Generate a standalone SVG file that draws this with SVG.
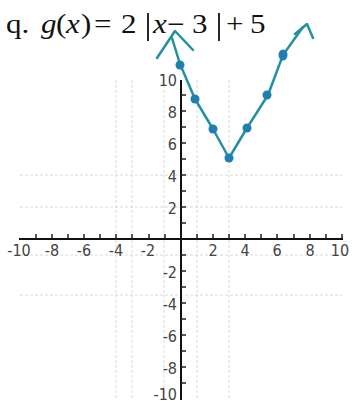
<svg xmlns="http://www.w3.org/2000/svg" width="353" height="405" viewBox="0 0 353 405">
<defs>
<style>
.title{font-family:"Liberation Serif","Times New Roman",serif;font-size:27px;fill:#111}
.it{font-style:italic}
.lbl{font-family:"DejaVu Sans Condensed","Liberation Sans Narrow","Liberation Sans",sans-serif;font-size:16px;fill:#444;font-stretch:condensed}
.grid{stroke:#d8d8d8;stroke-width:1;stroke-dasharray:3 2}
.axis{stroke:#111;stroke-width:2}
.tick{stroke:#222;stroke-width:1.5}
.curve{stroke:#23929f;stroke-width:2.5;fill:none;stroke-linecap:round;stroke-linejoin:round}
.dot{fill:#1f7fb0}
</style>
</defs>
<rect width="353" height="405" fill="#fff"/>
<g id="title">
<g transform="scale(1.15,1)">
<text class="title" x="5.2" y="33">q.</text>
<text class="title it" x="35.7" y="33">g</text>
<text class="title" x="48.7" y="33">(</text>
<text class="title it" x="57.4" y="33">x</text>
<text class="title" x="70.4" y="33">)</text>
<text class="title" x="81.7" y="33">=</text>
<text class="title" x="105.2" y="33">2</text>
<text class="title it" x="133" y="33">x</text>
<text class="title" x="145.2" y="33">−</text>
<text class="title" x="167" y="33">3</text>
<text class="title" x="196.5" y="33">+</text>
<text class="title" x="217.4" y="33">5</text>
</g>
<line x1="148" y1="13" x2="148" y2="41" stroke="#111" stroke-width="1.8"/>
<line x1="219" y1="13" x2="219" y2="41" stroke="#111" stroke-width="1.8"/>
</g>
<g id="grid">
<line class="grid" x1="116" y1="80" x2="116" y2="400"/>
<line class="grid" x1="132" y1="80" x2="132" y2="400"/>
<line class="grid" x1="164" y1="80" x2="164" y2="400"/>
<line class="grid" x1="197" y1="80" x2="197" y2="400"/>
<line class="grid" x1="229" y1="80" x2="229" y2="400"/>
<line class="grid" x1="20" y1="175" x2="342" y2="175"/>
<line class="grid" x1="20" y1="207" x2="342" y2="207"/>
<line class="grid" x1="20" y1="255" x2="342" y2="255"/>
<line class="grid" x1="20" y1="295" x2="342" y2="295"/>
</g>
<g id="axes">
<line class="axis" x1="19" y1="239" x2="343" y2="239"/>
<line class="axis" x1="181" y1="80" x2="181" y2="400"/>
<path class="tick" d="M36 239v-5M52 239v-5M68 239v-5M84 239v-5M100 239v-5M116 239v-5M132 239v-5M149 239v-5M165 239v-5M197 239v-5M213 239v-5M229 239v-5M245 239v-5M261 239v-5M277 239v-5M294 239v-5M310 239v-5M326 239v-5M342 239v-5"/>
<path class="tick" d="M181 95h5M181 111h5M181 127h5M181 143h5M181 159h5M181 175h5M181 191h5M181 207h5M181 223h5M181 255h5M181 271h5M181 287h5M181 303h5M181 319h5M181 335h5M181 351h5M181 367h5M181 383h5"/>
</g>
<g id="labels" class="lbl">
<text x="19" y="256" text-anchor="middle">-10</text>
<text x="52" y="256" text-anchor="middle">-8</text>
<text x="84" y="256" text-anchor="middle">-6</text>
<text x="116" y="256" text-anchor="middle">-4</text>
<text x="148" y="256" text-anchor="middle">-2</text>
<text x="213" y="256" text-anchor="middle">2</text>
<text x="245" y="256" text-anchor="middle">4</text>
<text x="277" y="256" text-anchor="middle">6</text>
<text x="310" y="256" text-anchor="middle">8</text>
<text x="340" y="256" text-anchor="middle">10</text>
<text x="177" y="86" text-anchor="end">10</text>
<text x="177" y="118" text-anchor="end">8</text>
<text x="177" y="150" text-anchor="end">6</text>
<text x="177" y="182" text-anchor="end">4</text>
<text x="177" y="214" text-anchor="end">2</text>
<text x="177" y="278" text-anchor="end">-2</text>
<text x="177" y="310" text-anchor="end">-4</text>
<text x="177" y="342" text-anchor="end">-6</text>
<text x="177" y="374" text-anchor="end">-8</text>
<text x="177" y="400" text-anchor="end">-10</text>
</g>
<g id="graph">
<path class="curve" d="M172 38 L180 64 L195 99 L213 129 L229 158 L247 128 L268 95 L283 55 L303 27"/>
<path class="curve" d="M157 58 L175 31 L193 50"/>
<path class="curve" d="M295 34 L307 24 L313 38"/>
<ellipse class="dot" cx="180" cy="65" rx="4.5" ry="4.5"/>
<ellipse class="dot" cx="195" cy="99" rx="4.5" ry="4.5"/>
<ellipse class="dot" cx="213" cy="129" rx="4.5" ry="4.5"/>
<ellipse class="dot" cx="229" cy="158" rx="4.5" ry="4.5"/>
<ellipse class="dot" cx="247" cy="128" rx="4.5" ry="4.5"/>
<ellipse class="dot" cx="267" cy="95" rx="4.5" ry="4.5"/>
<ellipse class="dot" cx="283" cy="55" rx="4.5" ry="5.5"/>
</g>
</svg>
